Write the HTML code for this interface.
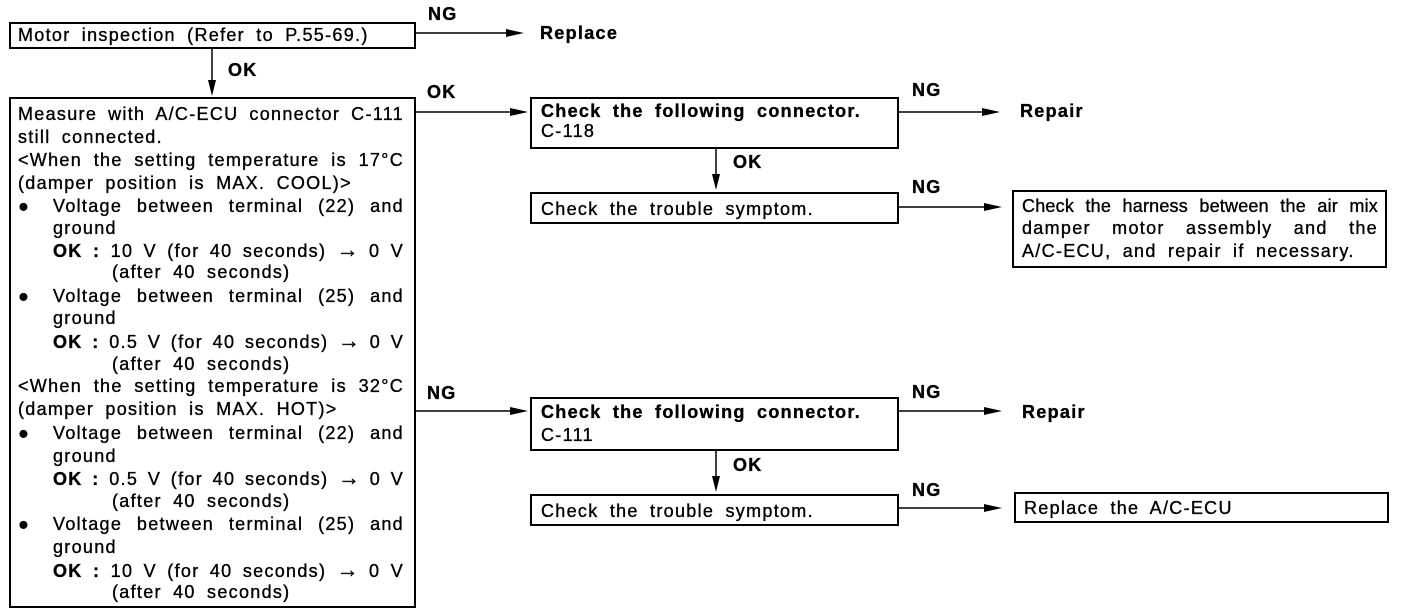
<!DOCTYPE html>
<html><head><meta charset="utf-8"><style>
body{margin:0;background:#fff;width:1408px;height:616px;position:relative;overflow:hidden;font-family:"Liberation Sans",Arial,sans-serif;font-size:18px;letter-spacing:1.3px;word-spacing:5px;color:#000;-webkit-text-stroke:0.35px #000}
.b{position:absolute;border:2px solid #000;box-sizing:border-box}
.t{position:absolute;white-space:nowrap;line-height:20px;transform:translateY(-10px)}
.j{text-align:justify;text-align-last:justify;white-space:normal;word-spacing:0}
.bold{font-weight:bold}
.ar{font-size:22px;letter-spacing:0}
svg{position:absolute;left:0;top:0}
</style></head><body>
<svg width="1408" height="616">
<g stroke="#000" stroke-width="1.5" fill="none">
<line x1="415" y1="33" x2="510" y2="33"/>
<line x1="212" y1="47" x2="212" y2="84"/>
<line x1="415" y1="112" x2="515" y2="112"/>
<line x1="898" y1="112" x2="985" y2="112"/>
<line x1="716" y1="148" x2="716" y2="178"/>
<line x1="898" y1="207" x2="985" y2="207"/>
<line x1="415" y1="411" x2="515" y2="411"/>
<line x1="898" y1="411" x2="985" y2="411"/>
<line x1="716" y1="450" x2="716" y2="480"/>
<line x1="898" y1="508" x2="985" y2="508"/>
</g>
<g fill="#000">
<polygon points="524,33 506,29 506,37"/>
<polygon points="212,96 208,80 216,80"/>
<polygon points="528,112 510,108 510,116"/>
<polygon points="1000,112 982,108 982,116"/>
<polygon points="716,190 712,174 720,174"/>
<polygon points="1002,207 984,203 984,211"/>
<polygon points="528,411 510,407 510,415"/>
<polygon points="1002,411 984,407 984,415"/>
<polygon points="716,492 712,476 720,476"/>
<polygon points="1002,508 984,504 984,512"/>
</g>
</svg>
<div class="b" style="left:9px;top:22px;width:407px;height:27px"></div>
<div class="t" style="left:18px;top:35px">Motor inspection (Refer to P.55-69.)</div>
<div class="t bold" style="left:428px;top:14px">NG</div>
<div class="t bold" style="left:540px;top:33px">Replace</div>
<div class="t bold" style="left:228px;top:70px">OK</div>

<div class="b" style="left:9px;top:97px;width:407px;height:511px"></div>
<div class="t j" style="left:18px;top:114px;width:386px">Measure with A/C-ECU connector C-111</div>
<div class="t" style="left:18px;top:137px">still connected.</div>
<div class="t j" style="left:18px;top:160px;width:386px">&lt;When the setting temperature is 17°C</div>
<div class="t" style="left:18px;top:183px">(damper position is MAX. COOL)&gt;</div>
<div class="t" style="left:18px;top:206px">●</div>
<div class="t j" style="left:53px;top:206px;width:351px">Voltage between terminal (22) and</div>
<div class="t" style="left:53px;top:228px">ground</div>
<div class="t j" style="left:53px;top:250px;width:351px"><b>OK :</b> 10 V (for 40 seconds) <span class="ar">→</span> 0 V</div>
<div class="t" style="left:112px;top:272px">(after 40 seconds)</div>
<div class="t" style="left:18px;top:296px">●</div>
<div class="t j" style="left:53px;top:296px;width:351px">Voltage between terminal (25) and</div>
<div class="t" style="left:53px;top:318px">ground</div>
<div class="t j" style="left:53px;top:341px;width:351px"><b>OK :</b> 0.5 V (for 40 seconds) <span class="ar">→</span> 0 V</div>
<div class="t" style="left:112px;top:364px">(after 40 seconds)</div>
<div class="t j" style="left:18px;top:386px;width:386px">&lt;When the setting temperature is 32°C</div>
<div class="t" style="left:18px;top:409px">(damper position is MAX. HOT)&gt;</div>
<div class="t" style="left:18px;top:433px">●</div>
<div class="t j" style="left:53px;top:433px;width:351px">Voltage between terminal (22) and</div>
<div class="t" style="left:53px;top:456px">ground</div>
<div class="t j" style="left:53px;top:478px;width:351px"><b>OK :</b> 0.5 V (for 40 seconds) <span class="ar">→</span> 0 V</div>
<div class="t" style="left:112px;top:501px">(after 40 seconds)</div>
<div class="t" style="left:18px;top:524px">●</div>
<div class="t j" style="left:53px;top:524px;width:351px">Voltage between terminal (25) and</div>
<div class="t" style="left:53px;top:547px">ground</div>
<div class="t j" style="left:53px;top:570px;width:351px"><b>OK :</b> 10 V (for 40 seconds) <span class="ar">→</span> 0 V</div>
<div class="t" style="left:112px;top:592px">(after 40 seconds)</div>

<div class="t bold" style="left:427px;top:92px">OK</div>
<div class="b" style="left:530px;top:97px;width:369px;height:52px"></div>
<div class="t bold" style="left:541px;top:111px">Check the following connector.</div>
<div class="t" style="left:541px;top:131px">C-118</div>
<div class="t bold" style="left:912px;top:90px">NG</div>
<div class="t bold" style="left:1020px;top:111px">Repair</div>
<div class="t bold" style="left:733px;top:162px">OK</div>
<div class="b" style="left:530px;top:192px;width:369px;height:32px"></div>
<div class="t" style="left:541px;top:209px">Check the trouble symptom.</div>
<div class="t bold" style="left:912px;top:187px">NG</div>
<div class="b" style="left:1012px;top:190px;width:375px;height:78px"></div>
<div class="t j" style="left:1022px;top:206px;width:356px;letter-spacing:0.2px">Check the harness between the air mix</div>
<div class="t j" style="left:1022px;top:228px;width:356px">damper motor assembly and the</div>
<div class="t" style="left:1022px;top:251px">A/C-ECU, and repair if necessary.</div>

<div class="t bold" style="left:427px;top:393px">NG</div>
<div class="b" style="left:530px;top:397px;width:369px;height:54px"></div>
<div class="t bold" style="left:541px;top:412px">Check the following connector.</div>
<div class="t" style="left:541px;top:435px">C-111</div>
<div class="t bold" style="left:912px;top:392px">NG</div>
<div class="t bold" style="left:1022px;top:412px">Repair</div>
<div class="t bold" style="left:733px;top:465px">OK</div>
<div class="b" style="left:530px;top:494px;width:369px;height:32px"></div>
<div class="t" style="left:541px;top:511px">Check the trouble symptom.</div>
<div class="t bold" style="left:912px;top:490px">NG</div>
<div class="b" style="left:1014px;top:492px;width:375px;height:31px"></div>
<div class="t" style="left:1024px;top:508px">Replace the A/C-ECU</div>
</body></html>
